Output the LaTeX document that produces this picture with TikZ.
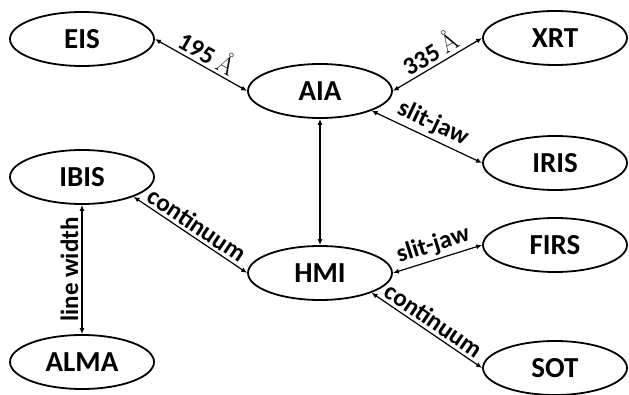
\documentclass[tikz,border=0pt]{standalone}
\usepackage{fontspec}
\newfontfamily\calibri{Carlito}
\usetikzlibrary{shapes.geometric,arrows.meta}
\begin{document}
\begin{tikzpicture}[x=1pt,y=-1pt,
  instr/.style={ellipse,draw,line width=1.8pt,minimum width=144pt,minimum height=54pt,inner sep=0pt,font=\calibri\bfseries\fontsize{29}{32}\selectfont},
  link/.style={<->,>={Latex[length=6pt,width=5pt]},line width=1.2pt},
  lbl/.style={midway,sloped,above,inner sep=3pt,font=\calibri\bfseries\fontsize{25}{28}\selectfont}]
\useasboundingbox (0,0) rectangle (629,395);
\node [instr] (EIS) at (82,39) {EIS};
\node [instr] (AIA) at (320,91) {AIA};
\node [instr] (XRT) at (555,38) {XRT};
\node [instr] (IRIS) at (555,163) {IRIS};
\node [instr] (IBIS) at (82,177) {IBIS};
\node [instr] (HMI) at (320,273) {HMI};
\node [instr] (FIRS) at (555,245) {FIRS};
\node [instr] (ALMA) at (82,362) {ALMA};
\node [instr] (SOT) at (555,368) {SOT};
\draw [link] (EIS.east) -- (AIA.west) node [lbl] {195 {\rmfamily\mdseries\AA}};
\draw [link] (AIA.east) -- (XRT.west) node [lbl] {335 {\rmfamily\mdseries\AA}};
\draw [link] (AIA.south east) -- (IRIS.west) node [lbl] {slit-jaw};
\draw [link] (AIA.south) -- (HMI.north);
\draw [link] (IBIS.south east) -- (HMI.west) node [lbl] {continuum};
\draw [link] (ALMA.north) -- (IBIS.south) node [lbl] {line width};
\draw [link] (HMI.east) -- (FIRS.west) node [lbl] {slit-jaw};
\draw [link] (HMI.south east) -- (SOT.west) node [lbl] {continuum};
\end{tikzpicture}
\end{document}
